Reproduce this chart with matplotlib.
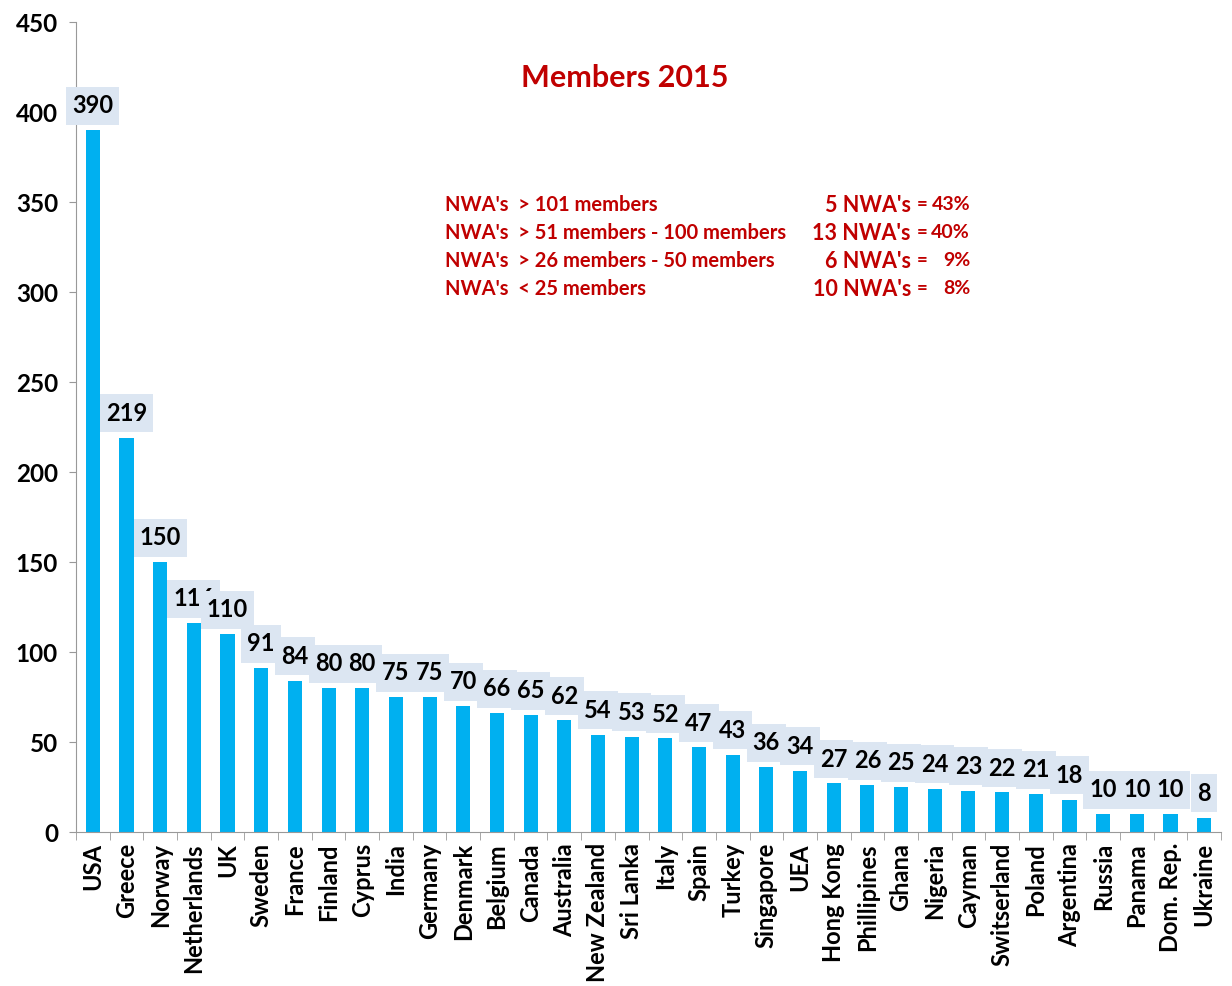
import numpy as np
import matplotlib.pyplot as plt
from matplotlib.patches import Rectangle

# data
countries = ["USA", "Greece", "Norway", "Netherlands", "UK", "Sweden", "France",
             "Finland", "Cyprus", "India", "Germany", "Denmark", "Belgium", "Canada",
             "Australia", "New Zealand", "Sri Lanka", "Italy", "Spain", "Turkey",
             "Singapore", "UEA", "Hong Kong", "Phillipines", "Ghana", "Nigeria",
             "Cayman", "Switserland", "Poland", "Argentina", "Russia", "Panama",
             "Dom. Rep.", "Ukraine"]
members = [390, 219, 150, 116, 110, 91, 84, 80, 80, 75, 75, 70, 66, 65, 62, 54, 53,
           52, 47, 43, 36, 34, 27, 26, 25, 24, 23, 22, 21, 18, 10, 10, 10, 8]

groups_left = ["NWA's  > 101 members",
               "NWA's  > 51 members - 100 members",
               "NWA's  > 26 members - 50 members",
               "NWA's  < 25 members"]
groups_count = ["5 NWA's", "13 NWA's", "6 NWA's", "10 NWA's"]
groups_pct = ["43%", "40%", "9%", "8%"]

plt.rcParams['font.family'] = ['Lato', 'DejaVu Sans']
red = "#c00000"

fig = plt.figure(figsize=(12.32, 9.86), dpi=100)
ax = fig.add_axes([76 / 1232, 1 - 832 / 986, (1221 - 76) / 1232, 810 / 986])

x = np.arange(len(countries))
ax.bar(x, members, width=0.42, color="#00b0f0", zorder=2)

ax.set_xlim(-0.5, len(countries) - 0.5)
ax.set_ylim(0, 450)
ax.set_yticks(range(0, 451, 50))
ax.set_xticks(x)
ax.set_xticklabels(countries, rotation=90, fontsize=17, fontweight="bold")
ax.tick_params(axis="x", length=0, pad=8)
ax.set_xticks(np.arange(-0.5, len(countries), 1), minor=True)
ax.tick_params(axis="x", which="minor", length=6, color="#999999")
ax.tick_params(axis="y", length=5, color="#999999", labelsize=17.5, pad=8)
for lab in ax.get_yticklabels():
    lab.set_fontweight("bold")

for s in ["top", "right"]:
    ax.spines[s].set_visible(False)
for s in ["left", "bottom"]:
    ax.spines[s].set_color("#999999")

# value labels, each with its own light box (later boxes cover earlier labels)
labels = []
for i, (xi, v) in enumerate(zip(x, members)):
    t = ax.annotate(str(v), (xi, v), xytext=(0, 17.5), textcoords="offset points",
                    ha="center", va="center", fontsize=17, fontweight="bold",
                    color="black", zorder=4 + 2 * i)
    labels.append(t)

fig.canvas.draw()
r = fig.canvas.get_renderer()
inv = ax.transData.inverted()
for i, t in enumerate(labels):
    bb = t.get_window_extent(r)
    cy = (bb.y0 + bb.y1) / 2
    (x0, y0), (x1, y1) = inv.transform([(bb.x0 - 6, cy - 19), (bb.x1 + 6, cy + 19)])
    ax.add_patch(Rectangle((x0, y0), x1 - x0, y1 - y0, fc="#dce6f2", ec="none",
                           zorder=3 + 2 * i, clip_on=False))

fig.text(625 / 1232, 1 - 78 / 986, "Members 2015", ha="center", va="center",
         fontsize=22, fontweight="bold", color=red)

for i in range(len(groups_left)):
    yy = 1 - (205 + i * 28) / 986
    fig.text(445 / 1232, yy, groups_left[i], ha="left", va="center", fontsize=14.5,
             fontweight="bold", color=red)
    fig.text(911 / 1232, yy, groups_count[i], ha="right", va="center", fontsize=15.5,
             fontweight="bold", color=red)
    fig.text(917 / 1232, yy, "=", ha="left", va="center", fontsize=13.5,
             fontweight="bold", color=red)
    fig.text(970 / 1232, yy, groups_pct[i], ha="right", va="center", fontsize=14,
             fontweight="bold", color=red)

plt.savefig("out.png", dpi=100)
